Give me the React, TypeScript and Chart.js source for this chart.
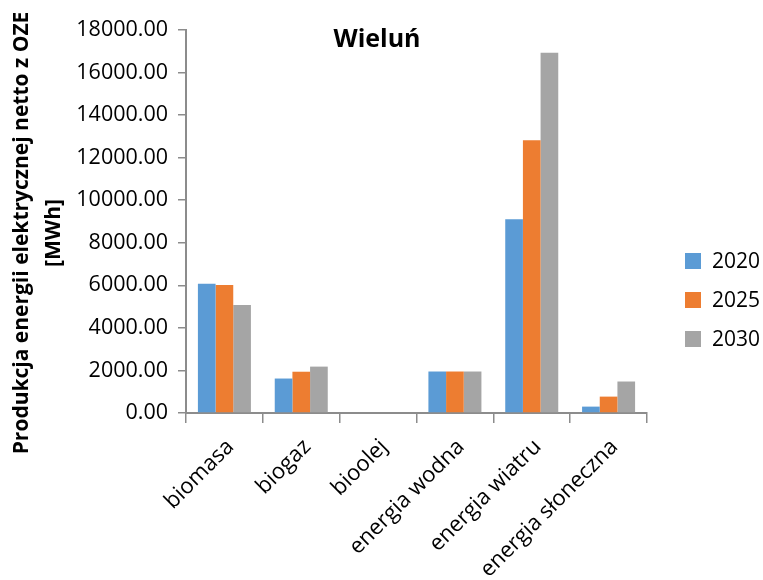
import React, { useEffect, useRef } from "react";
import { Chart, registerables } from "chart.js";

Chart.register(...registerables);

// Source categories and yearly net electricity production (MWh)
const categories = [
  "biomasa",
  "biogaz",
  "bioolej",
  "energia wodna",
  "energia wiatru",
  "energia słoneczna",
];
const seriesLabels = ["2020", "2025", "2030"];
const values2020 = [6080, 1620, 0, 1950, 9100, 300];
const values2025 = [6010, 1940, 0, 1950, 12820, 770];
const values2030 = [5080, 2180, 0, 1950, 16930, 1480];
const seriesColors = ["#5B9BD5", "#ED7D31", "#A5A5A5"];

const yMin = 0;
const yMax = 18000;
const yStep = 2000;

const chartTitle = "Wieluń";
const yTitleLines = ["Produkcja energii elektrycznej netto z OZE", "[MWh]"];

const FONT = "'Open Sans', 'DejaVu Sans', sans-serif";
const AXIS_COLOR = "#8c8c8c";
const WIDTH = 763;
const HEIGHT = 580;

// Title, rotated axis title and right-hand legend, drawn on top of the chart
const decorations = {
  id: "decorations",
  afterDraw(chart: any) {
    const ctx = chart.ctx as CanvasRenderingContext2D;
    const area = chart.chartArea;
    ctx.save();

    // chart title
    ctx.fillStyle = "#000";
    ctx.font = `bold 25px ${FONT}`;
    ctx.textAlign = "center";
    ctx.textBaseline = "middle";
    ctx.fillText(chartTitle, 377, 40);

    // vertical axis title (two lines)
    ctx.save();
    ctx.translate(0, 233);
    ctx.rotate(-Math.PI / 2);
    ctx.font = `bold 21px ${FONT}`;
    ctx.textAlign = "center";
    ctx.textBaseline = "alphabetic";
    ctx.fillText(yTitleLines[0], 0, 28);
    ctx.fillText(yTitleLines[1], 0, 60);
    ctx.restore();

    // legend
    ctx.font = `21px ${FONT}`;
    ctx.textAlign = "left";
    ctx.textBaseline = "middle";
    const lx = area.right + 38;
    const cy = 300;
    const gap = 39;
    chart.data.datasets.forEach((ds: any, i: number) => {
      const y = cy + (i - 1) * gap;
      ctx.fillStyle = ds.backgroundColor;
      ctx.fillRect(lx, y - 8, 16, 16);
      ctx.fillStyle = "#000";
      ctx.fillText(ds.label, lx + 27, y + 1);
    });

    ctx.restore();
  },
};

export default function App() {
  const canvasRef = useRef<HTMLCanvasElement | null>(null);

  useEffect(() => {
    if (!canvasRef.current) return;
    const seriesValues = [values2020, values2025, values2030];
    const chart = new Chart(canvasRef.current, {
      type: "bar",
      data: {
        labels: categories,
        datasets: seriesLabels.map((label, i) => ({
          label,
          data: seriesValues[i],
          backgroundColor: seriesColors[i],
          borderWidth: 0,
          categoryPercentage: 0.69,
          barPercentage: 1,
        })),
      },
      options: {
        responsive: false,
        maintainAspectRatio: false,
        animation: false,
        devicePixelRatio: 1,
        layout: {
          padding: { top: 30, right: 116, bottom: 0, left: 0 },
        },
        plugins: {
          legend: { display: false },
          title: { display: false },
          tooltip: { enabled: false },
        },
        scales: {
          x: {
            grid: {
              display: true,
              offset: true,
              drawOnChartArea: false,
              drawTicks: true,
              tickLength: 10,
              color: AXIS_COLOR,
              lineWidth: 1.5,
            },
            border: { display: true, color: AXIS_COLOR, width: 2 },
            ticks: {
              autoSkip: false,
              maxRotation: 45,
              minRotation: 45,
              padding: 11,
              labelOffset: 6,
              color: "#000",
              font: { family: FONT, size: 22 },
            },
            afterFit(scale: any) {
              scale.height = 167;
            },
          },
          y: {
            min: yMin,
            max: yMax,
            grid: {
              display: true,
              drawOnChartArea: false,
              drawTicks: true,
              tickLength: 8,
              color: AXIS_COLOR,
              lineWidth: 1.5,
            },
            border: { display: true, color: AXIS_COLOR, width: 2 },
            ticks: {
              stepSize: yStep,
              padding: 10,
              color: "#000",
              font: { family: FONT, size: 21.5 },
              callback: (v: any) => Number(v).toFixed(2),
            },
            afterFit(scale: any) {
              scale.width = 186;
            },
          },
        },
      },
      plugins: [decorations],
    });
    return () => chart.destroy();
  }, []);

  return (
    <div style={{ position: "absolute", left: 0, top: 0, width: WIDTH, height: HEIGHT, overflow: "hidden" }}>
      <canvas
        ref={canvasRef}
        width={WIDTH}
        height={HEIGHT}
        style={{ display: "block", width: WIDTH, height: HEIGHT }}
      />
    </div>
  );
}
